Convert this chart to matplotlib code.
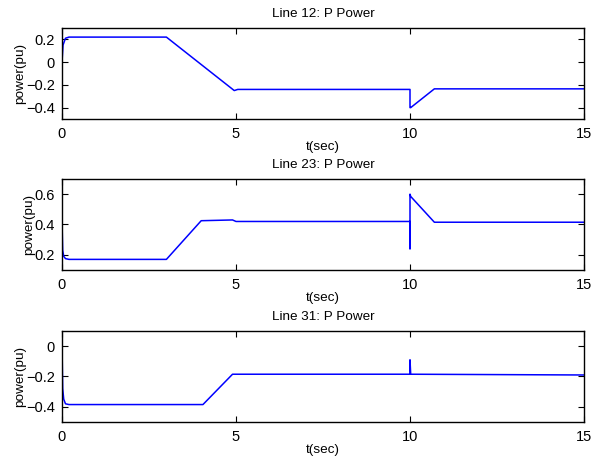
import matplotlib.pyplot as plt

plt.rcParams["font.family"] = ["Liberation Sans", "DejaVu Sans"]
plt.rcParams["font.size"] = 10

# Line 12 active power (pu), breakpoints
t12 = [0, 0.03, 0.1, 0.2, 3.0, 4.95, 5.05, 10.0, 10.0, 10.02, 10.7, 15]
p12 = [0.0, 0.15, 0.21, 0.22, 0.22, -0.25, -0.24, -0.24, -0.40, -0.40, -0.235, -0.235]

# Line 23 active power (pu)
t23 = [0, 0.0, 0.02, 0.05, 0.1, 0.2, 3.0, 4.0, 4.9, 5.0, 10.0, 10.0, 10.0, 10.02, 10.7, 15]
p23 = [0.1, 0.42, 0.23, 0.19, 0.175, 0.17, 0.17, 0.425, 0.43, 0.42, 0.42, 0.24, 0.6, 0.585, 0.415, 0.415]

# Line 31 active power (pu)
t31 = [0, 0.0, 0.02, 0.05, 0.1, 0.2, 4.05, 4.9, 10.0, 10.0, 10.02, 15]
p31 = [-0.5, 0.0, -0.28, -0.35, -0.38, -0.385, -0.385, -0.185, -0.185, -0.09, -0.185, -0.19]

series = [
    ("Line 12: P Power", t12, p12, (-0.5, 0.3), [-0.4, -0.2, 0, 0.2]),
    ("Line 23: P Power", t23, p23, (0.1, 0.7), [0.2, 0.4, 0.6]),
    ("Line 31: P Power", t31, p31, (-0.5, 0.1), [-0.4, -0.2, 0]),
]

fig = plt.figure(figsize=(5.93, 4.61), dpi=100)
W, H = 593, 461
tops = [28, 179, 331]
bots = [119, 270, 422]
left, right = 62, 584

for (title, t, p, ylim, yt), top, bot in zip(series, tops, bots):
    ax = fig.add_axes([left / W, 1 - bot / H, (right - left) / W, (bot - top) / H])
    ax.plot(t, p, color="blue", linewidth=1.1)
    ax.set_xlim(0, 15)
    ax.set_ylim(*ylim)
    ax.set_xticks([0, 5, 10, 15])
    ax.set_yticks(yt)
    ax.set_yticklabels([f"{v:g}".replace("-", "\u2212") for v in yt])
    ax.tick_params(direction="in", top=True, right=True, length=4, width=0.8, labelsize=10.5)
    ax.tick_params(axis="x", pad=6)
    ax.tick_params(axis="y", pad=5)
    for s in ax.spines.values():
        s.set_linewidth(1)
    ax.set_title(title, fontsize=9.7, pad=8)
    ax.set_xlabel("t(sec)", fontsize=9.7, labelpad=0)
    ax.set_ylabel("power(pu)", fontsize=9.7, labelpad=0)

plt.savefig("out.png", dpi=100)
plt.close()
